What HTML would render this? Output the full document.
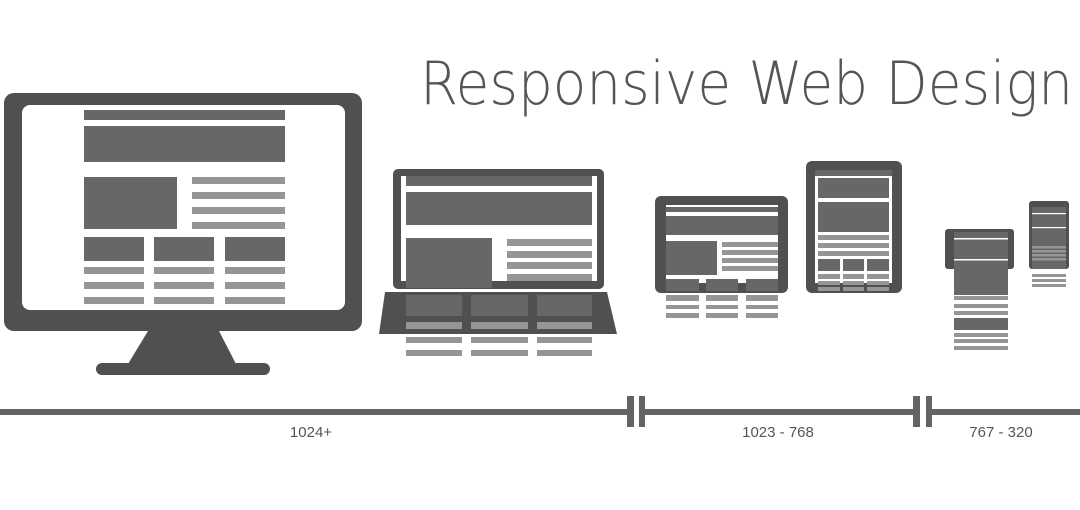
<!DOCTYPE html>
<html><head><meta charset="utf-8"><style>html,body{margin:0;padding:0;background:#fff;width:1080px;height:510px;overflow:hidden}</style></head>
<body>
<svg width="1080" height="510" viewBox="0 0 1080 510" xmlns="http://www.w3.org/2000/svg">
<rect width="1080" height="510" fill="#fff"/>
<text x="420" y="104" font-family="'DejaVu Sans','Liberation Sans',sans-serif" font-weight="200" font-size="60" fill="#555" textLength="653" lengthAdjust="spacingAndGlyphs">Responsive Web Design</text>

<!-- Monitor -->
<g>
<rect x="4" y="93" width="358" height="238" rx="10" fill="#505050"/>
<rect x="22" y="105" width="323" height="205" rx="8" fill="#fff"/>
<polygon points="148,331 219,331 236,364 128,364" fill="#505050"/>
<rect x="96" y="363" width="174" height="12" rx="6" fill="#505050"/>
<g fill="#676767">
<rect x="84" y="110" width="201" height="10"/>
<rect x="84" y="126" width="201" height="36"/>
<rect x="84" y="177" width="93" height="52"/>
<rect x="84" y="237" width="60" height="24"/>
<rect x="154" y="237" width="60" height="24"/>
<rect x="225" y="237" width="60" height="24"/>
</g>
<g fill="#959595">
<rect x="192" y="177" width="93" height="7"/><rect x="192" y="192" width="93" height="7"/><rect x="192" y="207" width="93" height="7"/><rect x="192" y="222" width="93" height="7"/>
<rect x="84" y="267" width="60" height="7"/><rect x="154" y="267" width="60" height="7"/><rect x="225" y="267" width="60" height="7"/>
<rect x="84" y="282" width="60" height="7"/><rect x="154" y="282" width="60" height="7"/><rect x="225" y="282" width="60" height="7"/>
<rect x="84" y="297" width="60" height="7"/><rect x="154" y="297" width="60" height="7"/><rect x="225" y="297" width="60" height="7"/>
</g>
</g>

<!-- Laptop -->
<g>
<rect x="393" y="169" width="211" height="120" rx="5" fill="#505050"/>
<rect x="401" y="176" width="196" height="105" fill="#fff"/>
<polygon points="385,292 607,292 617,334 379,334" fill="#505050"/>
<g fill="#676767">
<rect x="406" y="176" width="186" height="10"/>
<rect x="406" y="192" width="186" height="33"/>
<rect x="406" y="238" width="86" height="50"/>
<rect x="406" y="295" width="56" height="21"/><rect x="471" y="295" width="57" height="21"/><rect x="537" y="295" width="55" height="21"/>
</g>
<g fill="#959595">
<rect x="507" y="239" width="85" height="7"/><rect x="507" y="251" width="85" height="7"/><rect x="507" y="262" width="85" height="7"/><rect x="507" y="274" width="85" height="7"/>
<rect x="406" y="322" width="56" height="7"/><rect x="471" y="322" width="57" height="7"/><rect x="537" y="322" width="55" height="7"/>
<rect x="406" y="337" width="56" height="6"/><rect x="471" y="337" width="57" height="6"/><rect x="537" y="337" width="55" height="6"/>
<rect x="406" y="350" width="56" height="6"/><rect x="471" y="350" width="57" height="6"/><rect x="537" y="350" width="55" height="6"/>
</g>
</g>

<!-- Tablet landscape -->
<g>
<rect x="655" y="196" width="133" height="97" rx="6" fill="#505050"/>
<rect x="666" y="205" width="112" height="78" fill="#fff"/>
<g fill="#676767">
<rect x="666" y="207" width="112" height="5"/>
<rect x="666" y="216" width="112" height="19"/>
<rect x="666" y="241" width="51" height="34"/>
<rect x="666" y="279" width="33" height="12"/><rect x="706" y="279" width="32" height="12"/><rect x="746" y="279" width="32" height="12"/>
</g>
<g fill="#959595">
<rect x="722" y="242" width="56" height="5"/><rect x="722" y="250" width="56" height="5"/><rect x="722" y="258" width="56" height="5"/><rect x="722" y="266" width="56" height="5"/>
<rect x="666" y="295" width="33" height="6"/><rect x="706" y="295" width="32" height="6"/><rect x="746" y="295" width="32" height="6"/>
<rect x="666" y="305" width="33" height="4"/><rect x="706" y="305" width="32" height="4"/><rect x="746" y="305" width="32" height="4"/>
<rect x="666" y="313" width="33" height="5"/><rect x="706" y="313" width="32" height="5"/><rect x="746" y="313" width="32" height="5"/>
</g>
</g>

<!-- Tablet portrait -->
<g>
<rect x="806" y="161" width="96" height="132" rx="6" fill="#505050"/>
<rect x="815" y="170" width="77" height="113" fill="#fff"/>
<g fill="#676767">
<rect x="815" y="170" width="77" height="6"/>
<rect x="818" y="178" width="71" height="20"/>
<rect x="818" y="202" width="71" height="30"/>
<rect x="818" y="259" width="22" height="12"/><rect x="843" y="259" width="21" height="12"/><rect x="867" y="259" width="22" height="12"/>
</g>
<g fill="#959595">
<rect x="818" y="235" width="71" height="5"/><rect x="818" y="243" width="71" height="5"/><rect x="818" y="251" width="71" height="5"/>
<rect x="818" y="274" width="22" height="5"/><rect x="843" y="274" width="21" height="5"/><rect x="867" y="274" width="22" height="5"/>
<rect x="818" y="281" width="22" height="4"/><rect x="843" y="281" width="21" height="4"/><rect x="867" y="281" width="22" height="4"/>
<rect x="818" y="287" width="22" height="4"/><rect x="843" y="287" width="21" height="4"/><rect x="867" y="287" width="22" height="4"/>
</g>
</g>

<!-- Phone landscape -->
<g>
<rect x="945" y="229" width="69" height="40" rx="3" fill="#505050"/>
<rect x="954" y="232" width="54" height="63" fill="#676767"/>
<rect x="954" y="238" width="54" height="1.5" fill="#fff"/>
<rect x="954" y="259" width="54" height="1.5" fill="#fff"/>
<rect x="954" y="318" width="54" height="12" fill="#676767"/>
<g fill="#959595">
<rect x="954" y="296" width="54" height="4"/><rect x="954" y="304" width="54" height="4"/><rect x="954" y="311" width="54" height="4"/>
<rect x="954" y="333" width="54" height="4"/><rect x="954" y="339" width="54" height="4"/><rect x="954" y="346" width="54" height="4"/>
</g>
</g>

<!-- Phone portrait -->
<g>
<rect x="1029" y="201" width="40" height="68" rx="3" fill="#505050"/>
<rect x="1032" y="207" width="34" height="62" fill="#676767"/>
<rect x="1032" y="213" width="34" height="1.2" fill="#fff"/>
<rect x="1032" y="227" width="34" height="1.2" fill="#fff"/>
<g fill="#959595">
<rect x="1032" y="246" width="34" height="2.5"/><rect x="1032" y="250" width="34" height="2.5"/><rect x="1032" y="254" width="34" height="2.5"/><rect x="1032" y="258" width="34" height="2.5"/>
<rect x="1032" y="274" width="34" height="3"/><rect x="1032" y="279" width="34" height="3"/><rect x="1032" y="284" width="34" height="3"/>
</g>
</g>

<!-- Timeline -->
<g fill="#646464">
<rect x="0" y="409" width="627" height="6"/>
<rect x="645" y="409" width="268" height="6"/>
<rect x="932" y="409" width="148" height="6"/>
<rect x="627" y="396" width="7" height="31"/>
<rect x="639" y="396" width="6" height="31"/>
<rect x="913" y="396" width="7" height="31"/>
<rect x="926" y="396" width="6" height="31"/>
</g>
<g font-family="'Liberation Sans',Arial,sans-serif" font-size="15" fill="#555" text-anchor="middle">
<text x="311" y="437">1024+</text>
<text x="778" y="437">1023 - 768</text>
<text x="1001" y="437">767 - 320</text>
</g>
</svg>
</body></html>
